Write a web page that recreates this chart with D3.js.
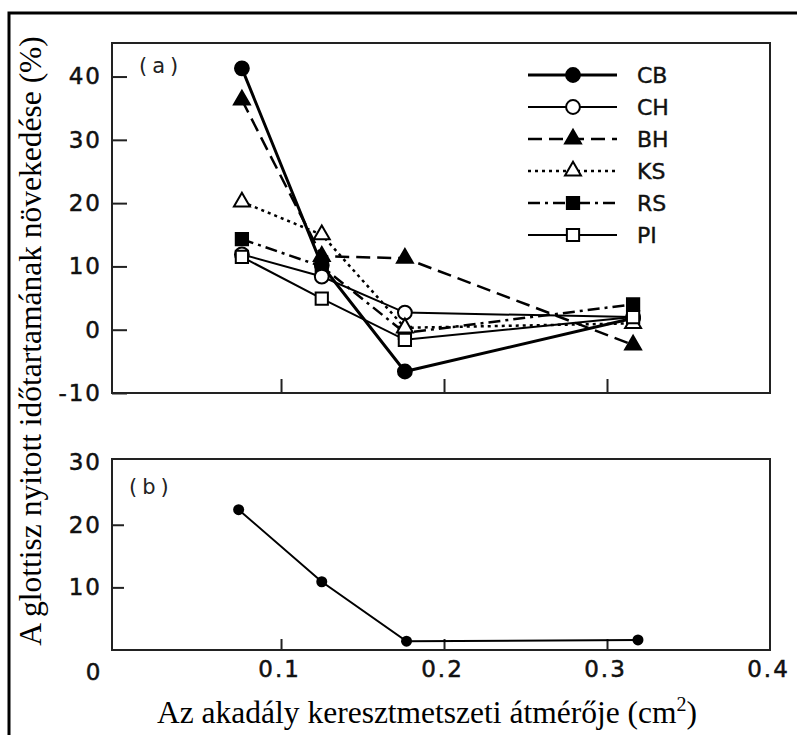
<!DOCTYPE html>
<html>
<head>
<meta charset="utf-8">
<script src="https://cdn.jsdelivr.net/npm/d3@7"></script>
<style>
  body { margin: 0; background: #fff; }
  svg { display: block; }
  .tick text { font-family: "DejaVu Sans", sans-serif; font-size: 23px; letter-spacing: 2px; fill: #111; stroke: #111; stroke-width: 0.5px; }
</style>
</head>
<body>
<div id="chart"></div>
<script>
// data
const seriesNames = ["CB", "CH", "BH", "KS", "RS", "PI"];
const xTop = [0.076, 0.125, 0.176, 0.316];
const cbVals = [41.3, 10.2, -6.6, 1.8];
const chVals = [11.9, 8.4, 2.7, 2.0];
const bhVals = [36.3, 11.6, 11.3, -2.4];
const ksVals = [20.2, 15.0, 0.3, 1.0];
const rsVals = [14.3, 10.0, -0.5, 4.0];
const piVals = [11.5, 4.9, -1.6, 2.0];

const xBottom = [0.074, 0.125, 0.177, 0.319];
const bottomVals = [22.4, 10.9, 1.4, 1.6];

const yTopTicks = [-10, 0, 10, 20, 30, 40];
const yBottomTicks = [10, 20, 30];
const xTicks = [0.1, 0.2, 0.3, 0.4];

const W = 797, H = 735;

const svg = d3.select("#chart").append("svg")
    .attr("width", W)
    .attr("height", H);

// outer frame (runs off the right/bottom edge)
svg.append("rect")
    .attr("x", 9).attr("y", 13)
    .attr("width", 800).attr("height", 740)
    .attr("fill", "none").attr("stroke", "#000").attr("stroke-width", 3);

// scales
const x = d3.scaleLinear().domain([-0.0037, 0.4]).range([112, 770]);
const yTop = d3.scaleLinear().domain([-10, 45.3]).range([393, 43]);
const yBot = d3.scaleLinear().domain([0, 30.5]).range([650, 459]);

// panel frames
const frame = (yS) => svg.append("rect")
    .attr("x", x.range()[0]).attr("y", yS.range()[1])
    .attr("width", x.range()[1] - x.range()[0])
    .attr("height", yS.range()[0] - yS.range()[1])
    .attr("fill", "none").attr("stroke", "#222").attr("stroke-width", 2);
frame(yTop);
frame(yBot);

// ---------- panel (a) axes ----------
const yAxisTop = svg.append("g")
    .attr("transform", `translate(${x.range()[0]},0)`)
    .call(d3.axisLeft(yTop).tickValues(yTopTicks).tickSizeInner(-15).tickSizeOuter(0)
        .tickFormat(d => d < 0 ? "-" + Math.abs(d) : d));
yAxisTop.select(".domain").remove();
yAxisTop.selectAll("line").attr("stroke", "#222").attr("stroke-width", 2);
yAxisTop.selectAll(".tick text").attr("x", -10).attr("text-anchor", "end");

const xAxisTop = svg.append("g")
    .attr("transform", `translate(0,${yTop.range()[0]})`)
    .call(d3.axisBottom(x).tickValues([0.1, 0.2, 0.3]).tickSizeInner(-14).tickSizeOuter(0).tickFormat(""));
xAxisTop.select(".domain").remove();
xAxisTop.selectAll("line").attr("stroke", "#222").attr("stroke-width", 2);

// ---------- panel (b) axes ----------
const yAxisBot = svg.append("g")
    .attr("transform", `translate(${x.range()[0]},0)`)
    .call(d3.axisLeft(yBot).tickValues(yBottomTicks).tickSizeInner(-12).tickSizeOuter(0));
yAxisBot.select(".domain").remove();
yAxisBot.selectAll("line").attr("stroke", "#222").attr("stroke-width", 2);
yAxisBot.selectAll(".tick").filter(d => d === 30).select("line").remove();
yAxisBot.selectAll(".tick text").attr("x", -10).attr("text-anchor", "end");

const xAxisBot = svg.append("g")
    .attr("transform", `translate(0,${yBot.range()[0]})`)
    .call(d3.axisBottom(x).tickValues(xTicks).tickSizeInner(-11).tickSizeOuter(0)
        .tickFormat(d3.format(".1f")));
xAxisBot.select(".domain").remove();
xAxisBot.selectAll("line").attr("stroke", "#222").attr("stroke-width", 2);
xAxisBot.selectAll(".tick").filter(d => d === 0.4).select("line").remove();
xAxisBot.selectAll(".tick text").attr("dy", "0.35em").attr("y", 19).attr("dx", -2);

// the shared origin "0"
svg.append("text")
    .attr("x", x(0) - 25).attr("y", yBot(0) + 22).attr("dy", "0.35em")
    .attr("text-anchor", "middle")
    .attr("font-family", "DejaVu Sans, sans-serif").attr("font-size", 23)
    .attr("fill", "#111").attr("stroke", "#111").attr("stroke-width", 0.5)
    .text("0");

// panel labels
svg.append("text").attr("x", 139).attr("y", 73)
    .attr("font-family", "DejaVu Sans, sans-serif").attr("font-size", 21)
    .attr("letter-spacing", 5).attr("fill", "#222").text("(a)");
svg.append("text").attr("x", 129).attr("y", 494)
    .attr("font-family", "DejaVu Sans, sans-serif").attr("font-size", 21)
    .attr("letter-spacing", 5).attr("fill", "#222").text("(b)");

// ---------- series styles ----------
const styles = {
    CB: { w: 3, dash: null, marker: "circle", fill: "#000" },
    CH: { w: 2, dash: null, marker: "circle", fill: "#fff" },
    BH: { w: 2.5, dash: "14,7", marker: "triangle", fill: "#000" },
    KS: { w: 2.5, dash: "3,4", marker: "triangle", fill: "#fff" },
    RS: { w: 2.5, dash: "12,5,3,5", marker: "square", fill: "#000" },
    PI: { w: 2, dash: null, marker: "square", fill: "#fff" }
};
const topValues = { CB: cbVals, CH: chVals, BH: bhVals, KS: ksVals, RS: rsVals, PI: piVals };

const symbolType = { circle: d3.symbolCircle, triangle: d3.symbolTriangle, square: d3.symbolSquare };
const symbolSize = { circle: 150, triangle: 110, square: 150 };

function drawMarker(g, name, cx, cy) {
    const s = styles[name];
    g.append("path")
        .attr("d", d3.symbol().type(symbolType[s.marker]).size(symbolSize[s.marker])())
        .attr("transform", `translate(${cx},${cy})`)
        .attr("fill", s.fill)
        .attr("stroke", "#000")
        .attr("stroke-width", 2);
}

const line = d3.line()
    .x(d => x(d.x))
    .y(d => yTop(d.y));

const gLines = svg.append("g");
const gMarks = svg.append("g");
seriesNames.forEach(name => {
    const pts = xTop.map((xv, i) => ({ x: xv, y: topValues[name][i] }));
    const s = styles[name];
    gLines.append("path")
        .datum(pts)
        .attr("d", line)
        .attr("fill", "none")
        .attr("stroke", "#000")
        .attr("stroke-width", s.w)
        .attr("stroke-dasharray", s.dash);
});
// draw hollow markers last so they sit on top of the lines
["CB", "BH", "RS", "CH", "KS", "PI"].forEach(name => {
    xTop.forEach((xv, i) => drawMarker(gMarks, name, x(xv), yTop(topValues[name][i])));
});

// legend
const legend = svg.append("g").attr("transform", "translate(528,75)");
seriesNames.forEach((name, i) => {
    const s = styles[name];
    const row = legend.append("g").attr("transform", `translate(0,${i * 32})`);
    row.append("line")
        .attr("x1", 0).attr("x2", 89).attr("y1", 0).attr("y2", 0)
        .attr("stroke", "#000").attr("stroke-width", s.w)
        .attr("stroke-dasharray", s.dash);
    drawMarker(row, name, 45, 0);
    row.append("text")
        .attr("x", 109).attr("y", 0).attr("dy", "0.36em")
        .attr("font-family", "DejaVu Sans, sans-serif").attr("font-size", 22)
        .attr("fill", "#111").attr("stroke", "#111").attr("stroke-width", 0.4)
        .text(name);
});

// ---------- panel (b) data ----------
const lineBot = d3.line()
    .x(d => x(d.x))
    .y(d => yBot(d.y));
const botPts = xBottom.map((xv, i) => ({ x: xv, y: bottomVals[i] }));
svg.append("path")
    .datum(botPts)
    .attr("d", lineBot)
    .attr("fill", "none").attr("stroke", "#000").attr("stroke-width", 2);
svg.append("g").selectAll("circle")
    .data(botPts)
    .enter().append("circle")
    .attr("cx", d => x(d.x))
    .attr("cy", d => yBot(d.y))
    .attr("r", 5.5)
    .attr("fill", "#000");

// axis titles
svg.append("text")
    .attr("transform", "translate(41,341) rotate(-90)")
    .attr("text-anchor", "middle")
    .attr("font-family", "Liberation Serif, Times New Roman, serif")
    .attr("font-size", 31.5)
    .attr("fill", "#000")
    .text("A glottisz nyitott időtartamának növekedése (%)");

const xTitle = svg.append("text")
    .attr("x", 427).attr("y", 723)
    .attr("text-anchor", "middle")
    .attr("font-family", "Liberation Serif, Times New Roman, serif")
    .attr("font-size", 31.5)
    .attr("fill", "#000");
xTitle.append("tspan").text("Az akadály keresztmetszeti átmérője (cm");
xTitle.append("tspan").attr("font-size", 20).attr("dy", -12).text("2");
xTitle.append("tspan").attr("dy", 12).text(")");
</script>
</body>
</html>
